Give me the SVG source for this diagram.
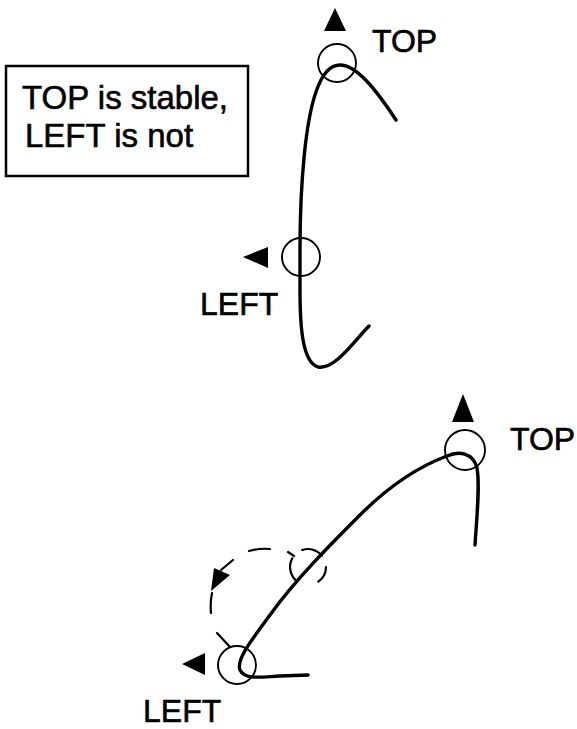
<svg xmlns="http://www.w3.org/2000/svg" width="577" height="729" viewBox="0 0 577 729">
  <style>
    .curve { fill: none; stroke: #000; stroke-width: 3.4; stroke-linecap: round; stroke-linejoin: round; }
    .ring { fill: none; stroke: #000; stroke-width: 1.9; }
    .dash { fill: none; stroke: #000; stroke-width: 2.2; stroke-linecap: round; }
    .mark { fill: #000; stroke: none; }
    .lbl { font-family: "Liberation Sans", Arial, sans-serif; font-size: 32px; fill: #000; stroke: #000; stroke-width: 0.6; }
    .note { font-family: "Liberation Sans", Arial, sans-serif; font-size: 33px; fill: #000; stroke: #000; stroke-width: 0.6; }
    .frame { fill: #fff; stroke: #000; stroke-width: 2.5; }
  </style>
  <rect width="577" height="729" fill="#fff"/>

  <!-- caption box -->
  <g id="note">
    <rect class="frame" x="6" y="66" width="242" height="110"/>
    <text class="note" x="22" y="109">TOP is stable,</text>
    <text class="note" x="25" y="147">LEFT is not</text>
  </g>

  <!-- upper figure: upright curve -->
  <g id="curve-upright">
    <path class="curve" d="M 369,326 C 355,340 335,370 318,367 C 302,362 300,325 300,290 L 300,250 C 300,180 306,120 316,92 C 322,74 330,65 340,65 C 356,65 375,88 396,120"/>
  </g>
  <g id="top-1">
    <circle class="ring" cx="337" cy="63" r="19"/>
    <polygon class="mark" points="335,8 324,31 346,31"/>
    <text class="lbl" x="372" y="52">TOP</text>
  </g>
  <g id="left-1">
    <circle class="ring" cx="301" cy="257" r="19"/>
    <polygon class="mark" points="243,257 268,247 268,268"/>
    <text class="lbl" x="200" y="315">LEFT</text>
  </g>

  <!-- lower figure: tilted curve -->
  <g id="curve-tilted">
    <path class="curve" d="M 475,545 C 477,515 480,485 477,468 C 473,452 458,451 447,456 C 420,466 390,485 360,515 C 330,545 295,580 270,615 C 250,642 236,660 240,670 C 245,680 260,677 280,676 L 308,675"/>
  </g>
  <g id="top-2">
    <circle class="ring" cx="465" cy="450" r="20"/>
    <polygon class="mark" points="463,394 452,422 474,422"/>
    <text class="lbl" x="510" y="450">TOP</text>
  </g>
  <g id="left-2">
    <circle class="ring" cx="237" cy="665" r="19"/>
    <polygon class="mark" points="182,664 205,653 205,675"/>
    <text class="lbl" x="143" y="722">LEFT</text>
  </g>

  <!-- former LEFT position (dashed) and its swing path -->
  <g id="left-ghost">
    <path class="dash" d="M 302.1,550 A 18 18 0 0 1 322,555.7 M 326,567 A 18 18 0 0 1 318.3,581.7 M 296.7,581 A 18 18 0 0 1 292.3,558.3 M 288,552 L 294,556"/>
  </g>
  <g id="connectors">
    <path class="dash" d="M 249,551 Q 259,548 270,549 M 233,560 L 221,570 M 212,593 Q 210,603 211,613 M 217,633 L 230,647"/>
    <polygon class="mark" points="214,568 230,575 211,591"/>
  </g>
</svg>
